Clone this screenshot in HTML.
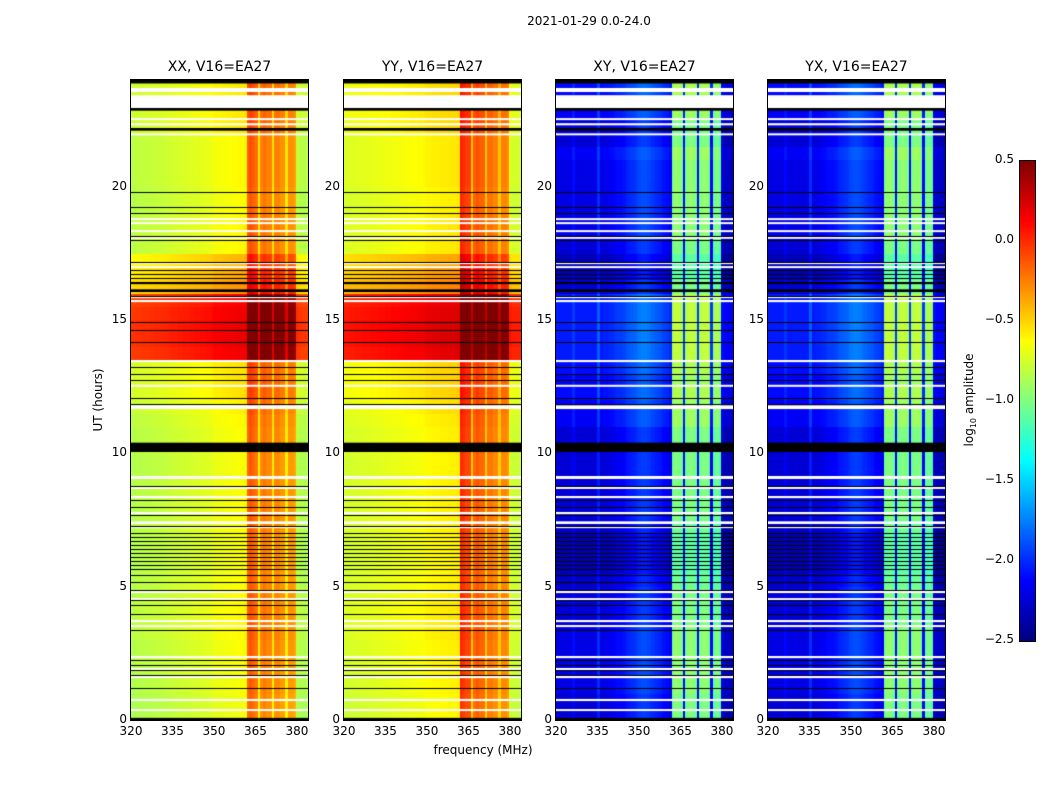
<!DOCTYPE html>
<html><head><meta charset="utf-8"><style>
body{margin:0;background:#fff;width:1050px;height:800px;overflow:hidden;font-family:"DejaVu Sans","Liberation Sans",sans-serif;}
.abs{position:absolute}
.t{position:absolute;font-size:14px;color:#000;white-space:nowrap;transform:translateX(-50%)}
.tk{position:absolute;font-size:12px;color:#000;white-space:nowrap}
canvas{position:absolute;border:1px solid #000;box-sizing:content-box}
</style></head><body>
<div id="root" style="position:relative;width:1050px;height:800px">
<div class="t" style="left:589px;top:14px;font-size:12px">2021-01-29 0.0-24.0</div>
<div class="t" style="left:483px;top:743px;font-size:12px">frequency (MHz)</div>
<div class="abs" style="left:98px;top:400px;font-size:12px;transform:translate(-50%,-50%) rotate(-90deg);white-space:nowrap">UT (hours)</div>
<div class="abs" style="left:970px;top:400px;font-size:12px;transform:translate(-50%,-50%) rotate(-90deg);white-space:nowrap">log<sub style="font-size:8px">10</sub> amplitude</div>
</div>
<script>
// frequency channels 320..383 MHz (1 MHz)
const freqStart = 320, freqEnd = 384;
const profXX = [-0.87,-0.87,-0.86,-0.86,-0.85,-0.85,-0.85,-0.84,-0.84,-0.83,-0.83,-0.83,-0.82,-0.82,-0.81,
 -0.8,-0.8,-0.79,-0.79,-0.78,-0.78,-0.77,-0.77,-0.76,-0.76,-0.75,-0.75,-0.74,-0.74,-0.73,
 -0.7,-0.7,-0.7,-0.69,-0.69,-0.68,-0.68,-0.67,-0.67,-0.66,-0.66,-0.65,
 -0.2,-0.15,-0.2,-0.25,-0.6,-0.3,-0.25,-0.3,-0.3,-0.6,-0.3,-0.3,-0.35,-0.35,-0.6,-0.35,-0.35,-0.4,-0.85,-0.87,-0.88,-0.88];
const profYY = [-0.78,-0.78,-0.77,-0.77,-0.76,-0.76,-0.76,-0.75,-0.75,-0.75,-0.74,-0.74,-0.74,-0.73,-0.73,
 -0.72,-0.72,-0.71,-0.71,-0.71,-0.7,-0.7,-0.69,-0.69,-0.68,-0.68,-0.68,-0.67,-0.67,-0.66,
 -0.64,-0.64,-0.63,-0.63,-0.63,-0.62,-0.62,-0.62,-0.61,-0.61,-0.61,-0.6,
 0.0,-0.05,-0.1,-0.1,-0.5,-0.2,-0.15,-0.2,-0.2,-0.5,-0.25,-0.25,-0.3,-0.3,-0.5,-0.3,-0.3,-0.35,-0.78,-0.8,-0.8,-0.8];
const profXY = [-2.2,-2.2,-2.2,-2.2,-2.2,-2.2,-2.1,-2.2,-2.2,-2.2,-2.2,-2.2,-2.2,-2.2,-2.2,
 -2.0,-2.2,-2.18,-2.18,-2.16,-2.15,-2.12,-2.1,-2.1,-2.08,-2.05,-2.02,-2.0,-1.98,-1.95,
 -1.92,-1.9,-1.9,-1.92,-1.95,-1.97,-2.0,-2.02,-2.05,-2.08,-2.1,-2.15,
 -1.0,-0.95,-0.95,-1.0,-2.1,-1.0,-0.95,-0.95,-1.0,-2.1,-1.0,-0.95,-0.95,-1.0,-2.1,-1.05,-1.0,-1.1,-2.25,-2.3,-2.3,-2.3];
const profYX = [-2.2,-2.2,-2.2,-2.2,-2.2,-2.2,-2.12,-2.2,-2.2,-2.2,-2.2,-2.2,-2.2,-2.2,-2.2,
 -2.0,-2.2,-2.18,-2.18,-2.16,-2.15,-2.12,-2.1,-2.1,-2.08,-2.05,-2.02,-2.0,-1.98,-1.95,
 -1.92,-1.9,-1.9,-1.92,-1.95,-1.97,-2.0,-2.02,-2.05,-2.08,-2.1,-2.15,
 -1.0,-0.95,-0.95,-1.0,-2.1,-1.0,-0.95,-0.95,-1.0,-2.1,-1.0,-0.95,-0.95,-1.0,-2.1,-1.05,-1.0,-1.1,-2.25,-2.3,-2.3,-2.3];
// time offsets per half hour (0..24h, 48 values)
const timeOffParallel = [0,0,0.02,0.02,0.03,0.03,0.05,0.05,0.05,0.03,0.03,0.02,0.02,0.02,0.03,0.03,0.03,0.03,0.02,0.02,
 0.03,0.03,0.05,0.08,0.12,0.12,0.12,0.82,0.85,0.85,0.83,0.8,0.35,0.3,0.25,0.05,0.05,0.05,0.03,0.03,0.05,0.05,0.05,0.05,0.1,0.1,0.1,0.1];
const timeOffCross = [-0.05,-0.05,0,0,0,0,0,-0.05,-0.05,-0.05,-0.1,-0.15,-0.15,-0.15,-0.1,-0.05,-0.05,-0.05,-0.05,-0.05,
 -0.05,-0.05,0.05,0.05,0.1,0.05,0.1,0.15,0.15,0.15,0.15,0.15,-0.05,-0.15,-0.15,-0.05,0,0,0,0,0,0,0.05,-0.05,-0.05,0.05,0.05,0.1];
// flagged (white) intervals in hours
const whiteFlags = [[23.55,23.7],[22.95,23.43],[22.5,22.57],[22.3,22.38],[21.95,22.0],[18.75,18.82],[18.6,18.67],[18.3,18.37],[18.05,18.12],
 [17.1,17.17],[16.95,17.02],[15.82,15.9],[15.67,15.75],[13.42,13.5],[12.5,12.57],[11.66,11.8],[9.04,9.15],[8.67,8.74],[8.32,8.4],
 [7.72,7.8],[7.2,7.27],[7.35,7.45],[4.76,4.87],[4.5,4.57],[3.67,3.75],[3.49,3.56],[2.32,2.4],[1.87,1.95],[1.57,1.65],[0.71,0.79],[0.34,0.41]];
const blackBands = [[23.87,24],[22.85,22.95],[22.1,22.2],[16.35,16.42],[16.05,16.15],[10.05,10.4],[0,0.08]];
const blackLines = [19.8,19.24,19.01,18.15,18.0,17.17,16.87,16.72,16.57,16.42,16.12,15.9,14.92,14.62,14.17,13.24,12.97,12.75,12.07,11.85,
 8.77,8.25,7.99,7.69,7.27,7.01,6.86,6.71,6.56,6.41,6.26,6.11,5.96,5.81,5.66,5.44,5.17,4.87,4.5,4.31,3.97,3.37,2.25,2.06,1.87,1.69,1.2];
const xTicks = [320,335,350,365,380];
const yTicks = [0,5,10,15,20];
const cbTicks = [0.5,0.0,-0.5,-1.0,-1.5,-2.0,-2.5];
const vmin = -2.5, vmax = 0.5;

const panels = [
 {title:'XX, V16=EA27', left:131, prof:profXX, off:timeOffParallel, name:'panel-xx'},
 {title:'YY, V16=EA27', left:344, prof:profYY, off:timeOffParallel, name:'panel-yy'},
 {title:'XY, V16=EA27', left:556, prof:profXY, off:timeOffCross, name:'panel-xy'},
 {title:'YX, V16=EA27', left:768, prof:profYX, off:timeOffCross, name:'panel-yx'}];
const TOP = 80, H = 640, W = 177;
function jet(t){t=Math.max(0,Math.min(1,t));const c=x=>Math.round(255*Math.max(0,Math.min(1,x)));
 return [c(1.5-Math.abs(4*t-3)),c(1.5-Math.abs(4*t-2)),c(1.5-Math.abs(4*t-1))];}
const xs = f => (f-freqStart)/(freqEnd-freqStart)*W;
const ys = h => H - h/24*H;
const root = document.getElementById('root');
panels.forEach(p=>{
 const cv = document.createElement('canvas');
 
 
 cv.width=W; cv.height=H; cv.style.left=(p.left-1)+'px'; cv.style.top=(TOP-1)+'px';
 const ctx = cv.getContext('2d');
 for(let r=0;r<p.off.length;r++){
  for(let c=0;c<p.prof.length;c++){
   const v = p.prof[c]+p.off[r];
   const [R,G,B]=jet((v-vmin)/(vmax-vmin));
   ctx.fillStyle=`rgb(${R},${G},${B})`;
   const x0=xs(freqStart+c), x1=xs(freqStart+c+1), y0=ys((r+1)/2), y1=ys(r/2);
   ctx.fillRect(Math.floor(x0),Math.floor(y0),Math.ceil(x1)-Math.floor(x0),Math.ceil(y1)-Math.floor(y0));
  }
 }
 ctx.fillStyle='#fff';
 whiteFlags.forEach(([a,b])=>{const y0=ys(b),y1=ys(a);ctx.fillRect(0,y0,W,Math.max(2,y1-y0));});
 ctx.fillStyle='#000';
 blackBands.forEach(([a,b])=>{const y0=ys(b),y1=ys(a);ctx.fillRect(0,y0,W,Math.max(2,y1-y0));});
 blackLines.forEach(h=>ctx.fillRect(0,Math.round(ys(h)),W,1));
 root.appendChild(cv);
 const t=document.createElement('div'); t.className='t'; t.textContent=p.title;
 
 
 t.style.left=(p.left+W/2)+'px'; t.style.top='59px'; root.appendChild(t);
 xTicks.forEach(f=>{const d=document.createElement('div'); d.className='tk'; d.textContent=f;
  
  
  d.style.left=(p.left+xs(f))+'px'; d.style.top='724px'; d.style.transform='translateX(-50%)'; root.appendChild(d);});
 yTicks.forEach(h=>{const d=document.createElement('div'); d.className='tk'; d.textContent=h;
  
  
  d.style.right=(1050-p.left+4)+'px'; d.style.top=(TOP+ys(h)-8)+'px'; root.appendChild(d);});
});
// colorbar
const cb=document.createElement('canvas');


cb.width=15; cb.height=480; cb.style.left='1019px'; cb.style.top='160px';
const cctx=cb.getContext('2d');
for(let y=0;y<480;y++){const [R,G,B]=jet(1-y/479);cctx.fillStyle=`rgb(${R},${G},${B})`;cctx.fillRect(0,y,15,1);}
root.appendChild(cb);
cbTicks.forEach(v=>{const d=document.createElement('div'); d.className='tk'; d.textContent=v.toFixed(1).replace('-','\u2212');
 
 
 const y=160+(vmax-v)/(vmax-vmin)*480;
 d.style.right=(1050-1014)+'px'; d.style.top=(y-8)+'px'; root.appendChild(d);});
</script>
</body></html>
